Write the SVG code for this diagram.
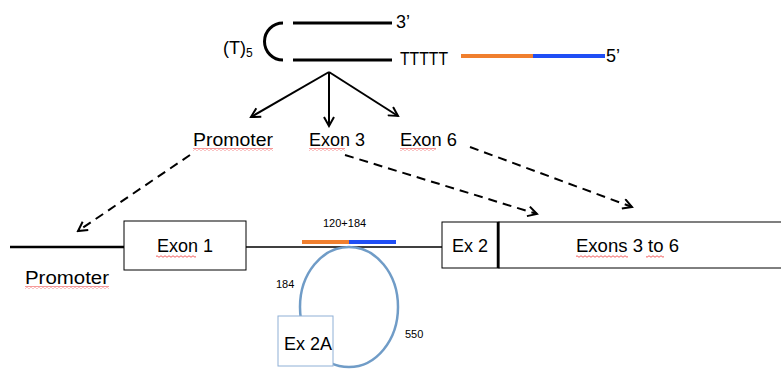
<svg xmlns="http://www.w3.org/2000/svg" width="781" height="370" viewBox="0 0 781 370">
<style>
text{font-family:"Liberation Sans",Arial,sans-serif;fill:#000}
.lbl{font-size:18px}
.sm{font-size:11px}
.box{fill:#fff;stroke:#000;stroke-width:1}
.sq{fill:url(#wave);stroke:none}
.arr{fill:none;stroke:#000;stroke-width:2}
.dash{fill:none;stroke:#000;stroke-width:2;stroke-dasharray:9 6}
</style>
<defs>
<marker id="vh" viewBox="0 0 12 12" refX="10" refY="6" markerWidth="12" markerHeight="12" markerUnits="userSpaceOnUse" orient="auto">
<path d="M1,1 L10,6 L1,11" fill="none" stroke="#000" stroke-width="2"/>
</marker>
<pattern id="wave" x="0" y="0" width="4" height="3" patternUnits="userSpaceOnUse">
<path d="M0,1.5 Q1,0 2,1.5 T4,1.5" fill="none" stroke="#e33" stroke-width="0.8"/>
</pattern>
</defs>

<g id="hairpin">
<path d="M283,23 A18.5,18.5 0 0 0 283,60" fill="none" stroke="#000" stroke-width="3"/>
<line x1="293" y1="23" x2="392" y2="23" stroke="#000" stroke-width="3"/>
<line x1="293" y1="60" x2="392" y2="60" stroke="#000" stroke-width="3"/>
<text x="223" y="54" class="lbl">(T)<tspan font-size="12" dy="3">5</tspan></text>
<text x="396" y="28" class="lbl">3’</text>
<text x="400" y="65" class="lbl" textLength="48" lengthAdjust="spacingAndGlyphs">TTTTT</text>
<line x1="461" y1="56" x2="534" y2="56" stroke="#f07f2e" stroke-width="4"/>
<line x1="533" y1="56" x2="605" y2="56" stroke="#1f4ef5" stroke-width="4"/>
<text x="606" y="62" class="lbl">5’</text>
</g>

<g id="labels">
<text x="193" y="146" class="lbl" textLength="80" lengthAdjust="spacingAndGlyphs">Promoter</text>
<text x="309" y="146" class="lbl" textLength="56" lengthAdjust="spacingAndGlyphs">Exon 3</text>
<text x="400" y="146" class="lbl" textLength="57" lengthAdjust="spacingAndGlyphs">Exon 6</text>
<rect class="sq" x="193" y="148" width="80" height="3"/>
<rect class="sq" x="309" y="148" width="36" height="3"/>
<rect class="sq" x="400" y="148" width="36" height="3"/>
</g>

<g id="connectors">
<line class="arr" x1="329" y1="72" x2="251" y2="117" marker-end="url(#vh)"/>
<line class="arr" x1="329" y1="72" x2="329" y2="126" marker-end="url(#vh)"/>
<line class="arr" x1="329" y1="72" x2="398" y2="116" marker-end="url(#vh)"/>
<line class="dash" x1="190" y1="155" x2="78" y2="231" marker-end="url(#vh)"/>
<line class="dash" x1="345" y1="155" x2="537" y2="214" marker-end="url(#vh)"/>
<line class="dash" x1="470" y1="147" x2="632" y2="207" marker-end="url(#vh)"/>
</g>

<g id="gene">
<line x1="10" y1="247" x2="125" y2="247" stroke="#000" stroke-width="2.5"/>
<line x1="246" y1="247" x2="442" y2="247" stroke="#000" stroke-width="1.5"/>
<line x1="302" y1="242" x2="350" y2="242" stroke="#f07f2e" stroke-width="4"/>
<line x1="349" y1="242" x2="396" y2="242" stroke="#1f4ef5" stroke-width="4"/>
<text x="323" y="227" class="sm">120+184</text>
</g>

<g id="loop">
<ellipse cx="349" cy="307" rx="49" ry="60" fill="none" stroke="#709cc7" stroke-width="2.5"/>
<text x="276" y="288" class="sm">184</text>
<text x="405" y="338" class="sm">550</text>
</g>

<g id="ex2a">
<rect x="278" y="316" width="55" height="50" fill="#fff" stroke="#8fb0d6" stroke-width="1"/>
<text x="284" y="350" class="lbl">Ex 2A</text>
</g>

<g id="exon1">
<rect class="box" x="124" y="221" width="122" height="49"/>
<text x="185" y="252" class="lbl" text-anchor="middle">Exon 1</text>
<rect class="sq" x="156" y="255" width="40" height="3"/>
</g>

<g id="promoter">
<text x="25" y="284" class="lbl" textLength="84" lengthAdjust="spacingAndGlyphs">Promoter</text>
<rect class="sq" x="25" y="286" width="84" height="3"/>
</g>

<g id="ex2">
<rect class="box" x="442" y="222" width="57" height="46"/>
<text x="470" y="252" class="lbl" text-anchor="middle">Ex 2</text>
</g>

<g id="exons3to6">
<rect class="box" x="499" y="222" width="290" height="46"/>
<line x1="498" y1="222" x2="498" y2="268" stroke="#000" stroke-width="2.5"/>
<text x="576" y="252" class="lbl" textLength="103" lengthAdjust="spacingAndGlyphs">Exons 3 to 6</text>
<rect class="sq" x="576" y="255" width="52" height="3"/>
<rect class="sq" x="646" y="255" width="18" height="3"/>
</g>
</svg>
